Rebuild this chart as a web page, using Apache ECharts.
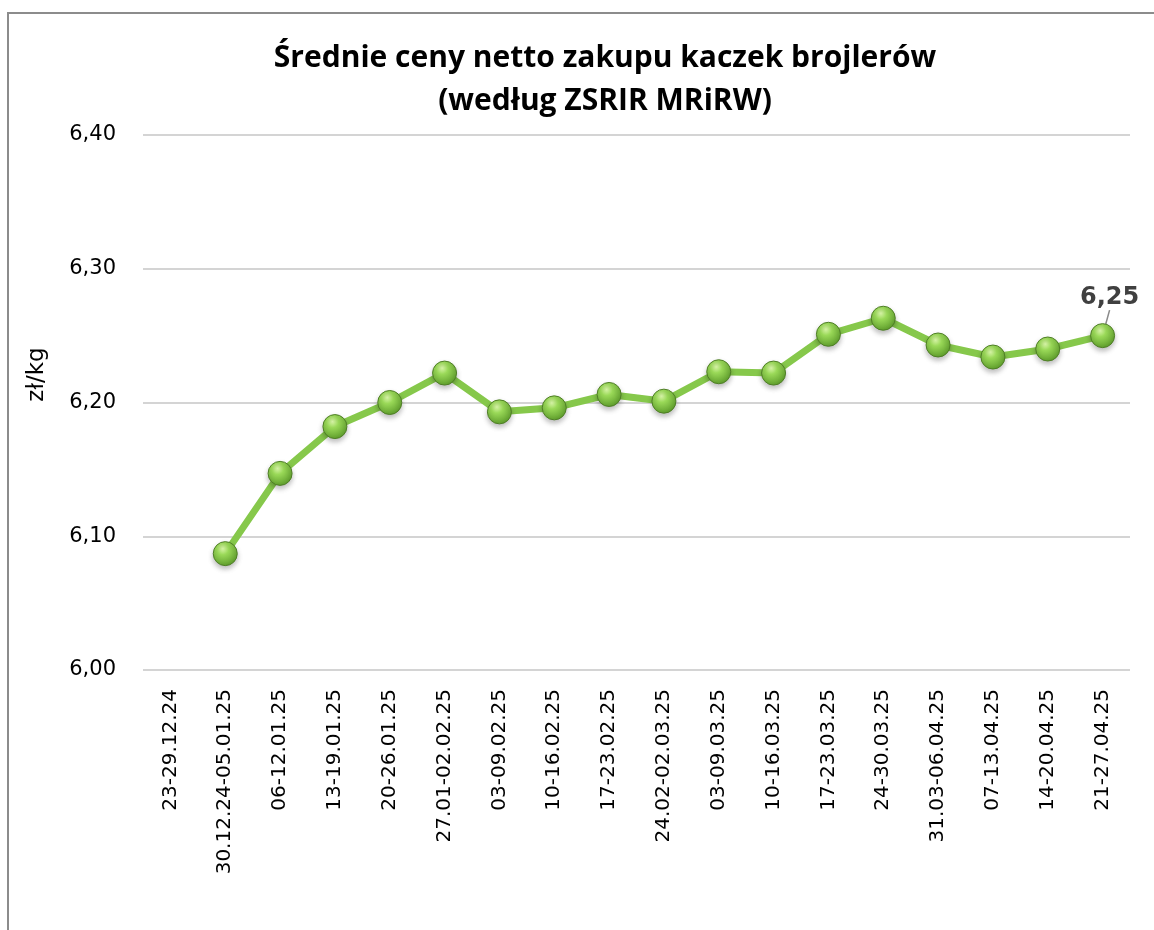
<!DOCTYPE html>
<html>
<head>
<meta charset="utf-8">
<script src="https://cdn.jsdelivr.net/npm/echarts@6/dist/echarts.min.js"></script>
<style>
  html, body { margin: 0; padding: 0; background: #fff; }
</style>
</head>
<body>
<div id="main" style="width:1154px;height:930px;"></div>
<script>
    // tygodnie notowań
    var weeks = ['23-29.12.24', '30.12.24-05.01.25', '06-12.01.25', '13-19.01.25', '20-26.01.25',
        '27.01-02.02.25', '03-09.02.25', '10-16.02.25', '17-23.02.25', '24.02-02.03.25',
        '03-09.03.25', '10-16.03.25', '17-23.03.25', '24-30.03.25', '31.03-06.04.25',
        '07-13.04.25', '14-20.04.25', '21-27.04.25'];
    // ceny zł/kg (pierwszy tydzień bez notowania)
    var prices = [null, 6.087, 6.147, 6.182, 6.200, 6.222, 6.193, 6.196, 6.206, 6.201,
        6.223, 6.222, 6.251, 6.263, 6.243, 6.234, 6.240, 6.250];
    var yTicks = [6.00, 6.10, 6.20, 6.30, 6.40];

    var font = '"DejaVu Sans", sans-serif';
    var titleFont = '"Open Sans", Lato, sans-serif';
    var last = prices.length - 1;
    var myChart = echarts.init(document.getElementById('main'));

    var seriesData = prices.map(function (v, i) {
        if (i === last) {
            return {
                value: v,
                label: {
                    show: true,
                    position: 'top',
                    formatter: function (p) { return p.value.toFixed(2).replace('.', ','); },
                    fontFamily: font,
                    fontWeight: 'bold',
                    fontSize: 24,
                    color: '#404040'
                },
                labelLine: { show: true, lineStyle: { color: '#8a8a8a', width: 1.5 } }
            };
        }
        return v;
    });

    var option = {
        backgroundColor: '#fff',
        animation: false,
        graphic: [{
            type: 'rect',
            shape: { x: 8, y: 13, width: 1200, height: 1000 },
            style: { fill: 'none', stroke: '#8c8c8c', lineWidth: 2 }
        }],
        title: {
            text: 'Średnie ceny netto zakupu kaczek brojlerów\n(według ZSRIR MRiRW)',
            left: 600,
            top: 32,
            textAlign: 'center',
            textStyle: {
                fontFamily: titleFont,
                fontWeight: 'bold',
                fontSize: 30,
                lineHeight: 43,
                color: '#000'
            }
        },
        grid: { left: 143, right: 24, top: 135, bottom: 260 },
        xAxis: {
            type: 'category',
            data: weeks,
            boundaryGap: true,
            axisLine: { show: false },
            axisTick: { show: false },
            axisLabel: {
                rotate: 90,
                interval: 0,
                margin: 19,
                fontFamily: font,
                fontSize: 20,
                color: '#000'
            }
        },
        yAxis: {
            type: 'value',
            min: yTicks[0],
            max: yTicks[yTicks.length - 1],
            interval: 0.1,
            name: 'zł/kg',
            nameLocation: 'middle',
            nameGap: 94,
            nameTextStyle: { fontFamily: font, fontSize: 23, color: '#000', padding: [0, 0, 0, 56] },
            axisLine: { show: false },
            axisTick: { show: false },
            axisLabel: {
                margin: 27,
                fontFamily: font,
                fontSize: 21,
                color: '#000',
                formatter: function (v) { return v.toFixed(2).replace('.', ','); }
            },
            splitLine: { lineStyle: { color: '#c6c6c6', width: 1.5 } }
        },
        series: [{
            name: 'cena',
            type: 'line',
            data: seriesData,
            connectNulls: false,
            symbol: 'circle',
            symbolSize: 24,
            lineStyle: { color: '#86c84b', width: 7 },
            labelLayout: function (params) {
                if (params.dataIndex === last) {
                    return { dx: 7, dy: -8 };
                }
            },
            itemStyle: {
                color: new echarts.graphic.RadialGradient(0.4, 0.3, 0.7, [
                    { offset: 0, color: '#d8f5a8' },
                    { offset: 0.35, color: '#9ad958' },
                    { offset: 1, color: '#5f9e2c' }
                ]),
                borderColor: '#4f7f26',
                borderWidth: 1,
                shadowColor: 'rgba(0,0,0,0.25)',
                shadowBlur: 5,
                shadowOffsetY: 3
            }
        }]
    };
    myChart.setOption(option);
</script>
</body>
</html>
